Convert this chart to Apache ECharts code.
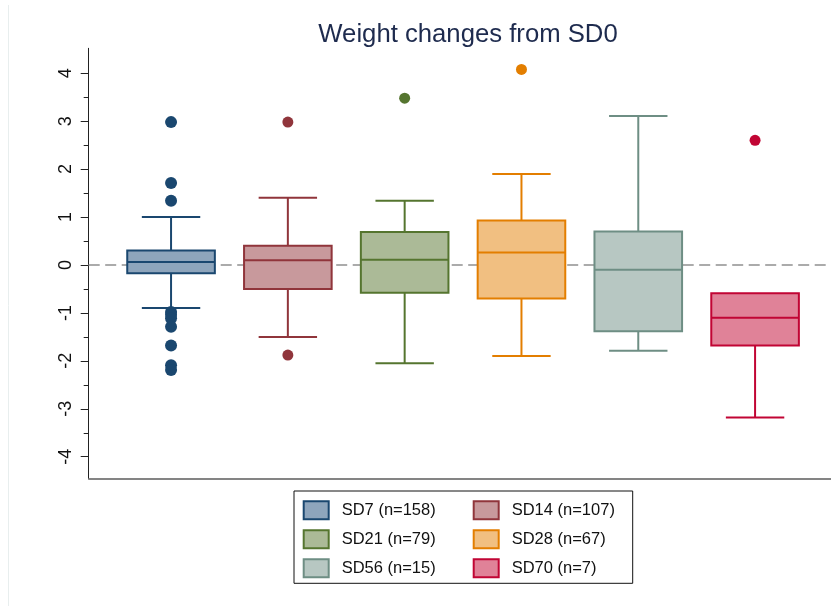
<!DOCTYPE html>
<html>
<head>
<meta charset="utf-8">
<script src="https://cdn.jsdelivr.net/npm/echarts@6/dist/echarts.min.js"></script>
<style>
  html, body { margin: 0; padding: 0; background: #fff; }
  #chart { width: 831px; height: 606px; }
</style>
</head>
<body>
<div id="chart"></div>
<script>
// Groups and sample sizes
const categories = ['SD7', 'SD14', 'SD21', 'SD28', 'SD56', 'SD70'];
const counts = [158, 107, 79, 67, 15, 7];

// Five-number summaries (whisker ends, quartiles, median)
const whiskerLow  = [-0.90, -1.50, -2.05, -1.90, -1.79, -3.18];
const quartile1   = [-0.17, -0.50, -0.58, -0.70, -1.38, -1.68];
const medians     = [ 0.06,  0.10,  0.11,  0.26, -0.10, -1.10];
const quartile3   = [ 0.30,  0.40,  0.69,  0.93,  0.70, -0.59];
const whiskerHigh = [ 1.00,  1.40,  1.34,  1.90,  3.11, -0.59];

// Outside values per group
const outliersSD7  = [2.98, 1.71, 1.34, -0.98, -1.04, -1.11, -1.29, -1.68, -2.09, -2.19];
const outliersSD14 = [2.98, -1.88];
const outliersSD21 = [3.48];
const outliersSD28 = [4.08];
const outliersSD56 = [];
const outliersSD70 = [2.60];
const outliers = [outliersSD7, outliersSD14, outliersSD21, outliersSD28, outliersSD56, outliersSD70];

// Axis ticks
const yTickLabels = [-4, -3, -2, -1, 0, 1, 2, 3, 4];
const yMinorTicks = [-3.5, -2.5, -1.5, -0.5, 0.5, 1.5, 2.5, 3.5];

// Palette: outline and fill for each group
const lineColors = ['#1a476f', '#90353b', '#55752f', '#e37e00', '#6e8e84', '#c10534'];
const fillColors = ['#8ea5bc', '#c8999c', '#abba97', '#f1bf81', '#b7c7c2', '#e08298'];

const FONT = '"Liberation Sans", Arial, Helvetica, sans-serif';

function renderBox(params, api) {
  const x = api.value(0);
  const lo = api.coord([x, api.value(1)]);
  const q1 = api.coord([x, api.value(2)]);
  const md = api.coord([x, api.value(3)]);
  const q3 = api.coord([x, api.value(4)]);
  const hi = api.coord([x, api.value(5)]);
  const unit = api.size([1, 0])[0];
  const bw = unit * 0.75;
  const cw = unit * 0.5;
  const cx = q1[0];
  const ls = { stroke: lineColors[params.seriesIndex], lineWidth: 2 };
  const children = [];
  if (api.value(5) > api.value(4)) {
    children.push({ type: 'line', shape: { x1: cx, y1: q3[1], x2: cx, y2: hi[1] }, style: ls });
    children.push({ type: 'line', shape: { x1: cx - cw / 2, y1: hi[1], x2: cx + cw / 2, y2: hi[1] }, style: ls });
  }
  if (api.value(1) < api.value(2)) {
    children.push({ type: 'line', shape: { x1: cx, y1: q1[1], x2: cx, y2: lo[1] }, style: ls });
    children.push({ type: 'line', shape: { x1: cx - cw / 2, y1: lo[1], x2: cx + cw / 2, y2: lo[1] }, style: ls });
  }
  children.push({
    type: 'rect',
    shape: { x: cx - bw / 2, y: q3[1], width: bw, height: q1[1] - q3[1] },
    style: { fill: fillColors[params.seriesIndex], stroke: lineColors[params.seriesIndex], lineWidth: 2 }
  });
  children.push({ type: 'line', shape: { x1: cx - bw / 2, y1: md[1], x2: cx + bw / 2, y2: md[1] }, style: ls });
  return { type: 'group', children: children };
}

const series = [];
categories.forEach(function (name, i) {
  series.push({
    name: name,
    type: 'custom',
    z: 10,
    renderItem: renderBox,
    itemStyle: { color: fillColors[i], borderColor: lineColors[i] },
    encode: { x: 0, y: [1, 2, 3, 4, 5] },
    data: [[i, whiskerLow[i], quartile1[i], medians[i], quartile3[i], whiskerHigh[i]]]
  });
});
categories.forEach(function (name, i) {
  const s = {
    name: name,
    type: 'scatter',
    z: 11,
    symbol: 'circle',
    symbolSize: i === 0 ? 12 : 11,
    itemStyle: { color: lineColors[i], opacity: 1 },
    data: outliers[i].map(function (v) { return [i, v]; })
  };
  if (i === 0) {
    s.markLine = {
      silent: true,
      z: 1,
      symbol: 'none',
      label: { show: false },
      lineStyle: { color: '#ababab', type: [11, 5.5], width: 2 },
      data: [{ yAxis: 0 }]
    };
  }
  series.push(s);
});

function legendItems(idx) {
  return idx.map(function (i) {
    return {
      name: categories[i],
      icon: 'rect',
      itemStyle: { color: fillColors[i], borderColor: lineColors[i], borderWidth: 2 }
    };
  });
}
const legendCommon = {
  orient: 'vertical',
  itemWidth: 25,
  itemHeight: 18,
  itemGap: 9,
  selectedMode: false,
  padding: 0,
  textStyle: { fontFamily: FONT, fontSize: 16.5, color: '#111', lineHeight: 18, padding: [0, 0, 0, 8] },
  formatter: function (name) { return name + ' (n=' + counts[categories.indexOf(name)] + ')'; }
};

const chart = echarts.init(document.getElementById('chart'), null, { renderer: 'canvas' });
chart.setOption({
  backgroundColor: '#ffffff',
  animation: false,
  title: {
    text: 'Weight changes from SD0',
    left: 463,
    textAlign: 'center',
    top: 17,
    textStyle: { fontFamily: FONT, fontSize: 25.7, fontWeight: 'normal', color: '#1e2b4e' }
  },
  grid: { left: 88.7, top: 48.3, right: 0, height: 430, containLabel: false },
  xAxis: {
    type: 'value',
    min: -0.705,
    max: 5.65,
    axisLine: { show: true, onZero: false, lineStyle: { color: '#5c5c5c', width: 1.5 } },
    axisTick: { show: false },
    axisLabel: { show: false },
    splitLine: { show: false }
  },
  yAxis: [
    {
      type: 'value',
      min: -4.45,
      max: 4.52,
      position: 'left',
      axisLine: { show: true, onZero: false, lineStyle: { color: '#222', width: 1 } },
      axisTick: { show: true, length: 8, customValues: yTickLabels, lineStyle: { color: '#222', width: 1 } },
      axisLabel: {
        show: true, customValues: yTickLabels, rotate: 90, margin: 14,
        fontFamily: FONT, fontSize: 18, color: '#111'
      },
      splitLine: { show: false }
    },
    {
      type: 'value',
      min: -4.45,
      max: 4.52,
      position: 'left',
      offset: 0,
      axisLine: { show: false, onZero: false },
      axisTick: { show: true, length: 5, customValues: yMinorTicks, lineStyle: { color: '#222', width: 1 } },
      axisLabel: { show: false },
      splitLine: { show: false }
    }
  ],
  legend: [
    Object.assign({}, legendCommon, { left: 302.7, top: 500.3, data: legendItems([0, 2, 4]) }),
    Object.assign({}, legendCommon, { left: 472.7, top: 500.3, data: legendItems([1, 3, 5]) })
  ],
  graphic: [
    { type: 'rect', shape: { x: 294, y: 491, width: 338.7, height: 92.3 }, style: { fill: null, stroke: '#111', lineWidth: 1 }, silent: true },
    { type: 'line', shape: { x1: 8.5, y1: 5, x2: 8.5, y2: 606 }, style: { stroke: '#e8eeee', lineWidth: 1 }, silent: true }
  ],
  series: series
});
</script>
</body>
</html>
